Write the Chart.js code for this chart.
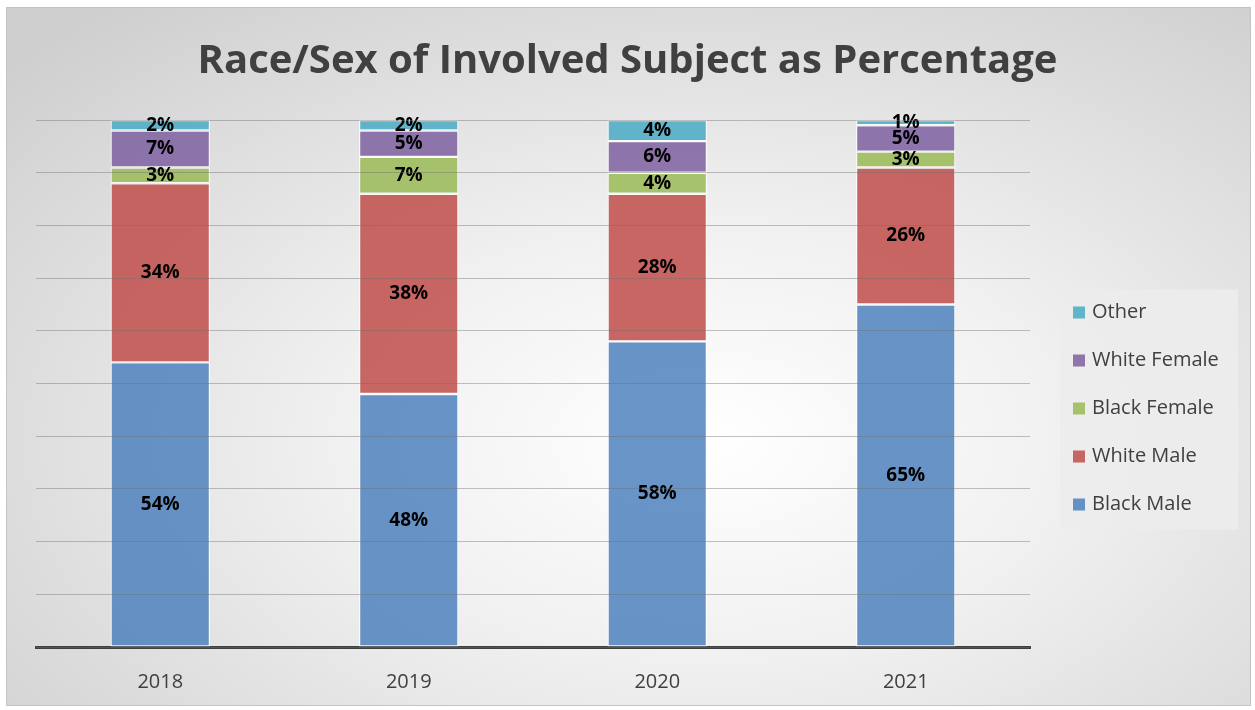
<!DOCTYPE html>
<html>
<head>
<meta charset="utf-8">
<script src="https://cdn.jsdelivr.net/npm/chart.js@4"></script>
<style>
    html, body { margin: 0; padding: 0; background: #fff; }
    #wrap {
        position: absolute; left: 6px; top: 7px; width: 1243px; height: 697px;
        border: 1px solid #c4c4c4;
        background: radial-gradient(ellipse 75% 80% at 56% 62%, #ffffff 0%, #f0f0f0 40%, #cfcfcf 100%);
    }
    #chart { position: absolute; left: 0; top: 0; }
</style>
</head>
<body>
<div id="wrap"></div>
<canvas id="chart" width="1255" height="710"></canvas>
<script>
const years = ['2018', '2019', '2020', '2021'];
// procent pr. år
const blackMale = [54, 48, 58, 65];
const whiteMale = [34, 38, 28, 26];
const blackFemale = [3, 7, 4, 3];
const whiteFemale = [7, 5, 6, 5];
const other = [2, 2, 4, 1];

const txt = '#404040';

// tal midt i hver søjle
const barLabels = {
    id: 'barLabels',
    afterDatasetsDraw(chart) {
        const c = chart.ctx;
        c.save();
        c.font = 'bold 19px "Open Sans"';
        c.fillStyle = '#000';
        c.textAlign = 'center';
        c.textBaseline = 'middle';
        chart.data.datasets.forEach((ds, i) => {
            chart.getDatasetMeta(i).data.forEach((bar, j) => {
                c.fillText(ds.data[j] + '%', bar.x, (bar.y + bar.base) / 2);
            });
        });
        c.restore();
    }
};

// egen legend til højre, omvendt rækkefølge (Other øverst)
const sideLegend = {
    id: 'sideLegend',
    afterDraw(chart) {
        const c = chart.ctx;
        const a = chart.chartArea;
        const left = a.right + 30;
        const top = (a.top + a.bottom) / 2 - 94;
        const step = 48;
        const items = chart.data.datasets.slice().reverse();
        c.save();
        c.fillStyle = 'rgba(236,236,236,0.9)';
        c.fillRect(left, top, 178, 240);
        c.font = '20px "Open Sans"';
        c.textBaseline = 'middle';
        items.forEach((ds, k) => {
            const y = top + 23 + k * step;
            c.fillStyle = ds.backgroundColor;
            c.fillRect(left + 13, y - 6, 12, 12);
            c.fillStyle = txt;
            c.fillText(ds.label, left + 32, y);
        });
        c.restore();
    }
};

const ctx = document.querySelector('#chart').getContext('2d');
const chart = new Chart(ctx, {
    type: 'bar',
    data: {
        labels: years,
        datasets: [
            { label: 'Black Male', data: blackMale, backgroundColor: 'rgba(79,129,189,0.85)' },
            { label: 'White Male', data: whiteMale, backgroundColor: 'rgba(192,80,77,0.87)' },
            { label: 'Black Female', data: blackFemale, backgroundColor: 'rgba(155,187,89,0.87)' },
            { label: 'White Female', data: whiteFemale, backgroundColor: 'rgba(128,100,162,0.87)' },
            { label: 'Other', data: other, backgroundColor: 'rgba(75,172,198,0.87)' }
        ]
    },
    options: {
        responsive: false,
        animation: false,
        datasets: {
            bar: {
                borderColor: 'rgba(255,255,255,0.8)',
                borderWidth: 1.2,
                borderSkipped: false,
                categoryPercentage: 0.4,
                barPercentage: 1
            }
        },
        layout: {
            padding: { left: 0, right: 0, top: 0, bottom: 1 }
        },
        scales: {
            x: {
                stacked: true,
                grid: { display: false },
                border: { display: true, color: '#404040', width: 3 },
                ticks: { color: txt, font: { family: 'Open Sans', size: 20 }, padding: 15 }
            },
            y: {
                stacked: true,
                min: 0,
                max: 100,
                ticks: { display: false, stepSize: 10 },
                border: { display: false },
                grid: { color: 'rgba(110,110,110,0.42)', lineWidth: 1, drawTicks: false, z: 1 },
                afterFit(scale) { scale.width = 36; }
            },
            // tom akse der bare holder plads til legenden
            side: {
                position: 'right',
                min: 0,
                max: 100,
                ticks: { display: false },
                grid: { display: false },
                border: { display: false },
                afterFit(scale) { scale.width = 225; }
            }
        },
        plugins: {
            title: {
                display: true,
                text: 'Race/Sex of Involved Subject as Percentage',
                color: txt,
                font: { family: 'Open Sans', size: 40, weight: 'bold' },
                padding: { top: 38, bottom: 34 }
            },
            legend: { display: false },
            tooltip: { enabled: false }
        }
    },
    plugins: [barLabels, sideLegend]
});
</script>
</body>
</html>
